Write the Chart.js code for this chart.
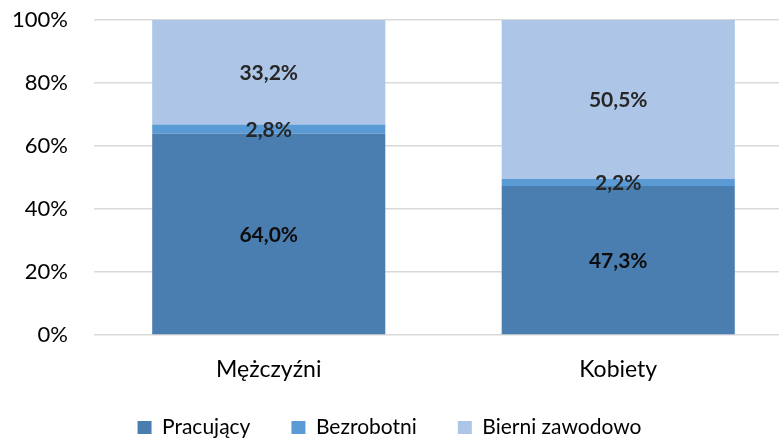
<!DOCTYPE html>
<html>
<head>
<meta charset="utf-8">
<script src="https://cdn.jsdelivr.net/npm/chart.js@4"></script>
<style>
  html, body { margin: 0; padding: 0; background: #fff; overflow: hidden; }
  #wrap { width: 779px; height: 439px; }
</style>
</head>
<body>
<div id="wrap"><canvas id="chart-aktywnosc"></canvas></div>
<script>
// dane (udział w %)
const kategorie = ['Mężczyźni', 'Kobiety']
const pracujacy = [64.0, 47.3]
const bezrobotni = [2.8, 2.2]
const bierni = [33.2, 50.5]
const serie = ['Pracujący', 'Bezrobotni', 'Bierni zawodowo']
const yTicks = [0, 20, 40, 60, 80, 100]

const kolory = ['#4a7eb0', '#5b9bd5', '#adc5e6']
const koloryEtykiet = ['#0d0d0d', '#262626', '#262626']
const FONT = 'Lato'

const punkty = arr => arr.map((v, i) => ({ x: i, y: v }))

// etykiety danych na środku segmentów
const etykiety = {
  id: 'etykiety',
  afterDatasetsDraw(chart) {
    const ctx = chart.ctx
    ctx.save()
    ctx.font = 'bold 21px ' + FONT
    ctx.textAlign = 'center'
    ctx.textBaseline = 'middle'
    chart.data.datasets.forEach((ds, d) => {
      const meta = chart.getDatasetMeta(d)
      ctx.fillStyle = koloryEtykiet[d]
      meta.data.forEach((el, i) => {
        const p = el.getProps(['x', 'y', 'base'], true)
        const txt = ds.data[i].y.toFixed(1).replace('.', ',') + '%'
        ctx.fillText(txt, p.x, (p.y + p.base) / 2 + 1)
      })
    })
    ctx.restore()
  }
}

// legenda: duże odstępy między pozycjami, ale blisko dolnej krawędzi
const legenda = {
  id: 'legenda',
  beforeInit(chart) {
    const fit = chart.legend.fit
    chart.legend.fit = function () {
      fit.call(this)
      this.height = 51
    }
  },
  afterLayout(chart) {
    chart.legend.top -= 12
  }
}

window.addEventListener('load', () => {
  new Chart(document.getElementById('chart-aktywnosc'), {
    type: 'bar',
    data: {
      datasets: [{
        label: serie[0],
        data: punkty(pracujacy),
        backgroundColor: kolory[0],
      }, {
        label: serie[1],
        data: punkty(bezrobotni),
        backgroundColor: kolory[1],
      }, {
        label: serie[2],
        data: punkty(bierni),
        backgroundColor: kolory[2],
      }]
    },
    options: {
      responsive: true,
      maintainAspectRatio: false,
      animation: false,
      layout: { padding: { top: 20, right: 0, bottom: 0, left: 0 } },
      datasets: {
        bar: { barPercentage: 1, categoryPercentage: 0.667 }
      },
      plugins: {
        tooltip: { enabled: false },
        legend: {
          position: 'bottom',
          labels: {
            boxWidth: 14,
            boxHeight: 13,
            padding: 41,
            color: '#000',
            font: { family: FONT, size: 21 }
          }
        }
      },
      scales: {
        x: {
          type: 'linear',
          stacked: true,
          offset: false,
          min: -0.5,
          max: 1.46,
          afterBuildTicks: s => { s.ticks = kategorie.map((k, i) => ({ value: i })) },
          afterFit: s => { s.height = 53 },
          grid: { display: false },
          border: { display: false },
          ticks: {
            padding: 13,
            maxRotation: 0,
            autoSkip: false,
            color: '#000',
            font: { family: FONT, size: 23 },
            callback: v => kategorie[v]
          }
        },
        y: {
          stacked: true,
          min: 0,
          max: 100,
          afterBuildTicks: s => { s.ticks = yTicks.map(v => ({ value: v })) },
          afterFit: s => {
            s.width = 94
            s.paddingTop = 0
            s.paddingBottom = 0
          },
          border: { display: false },
          grid: { color: '#d9d9d9', lineWidth: 1.5, drawTicks: false },
          ticks: {
            padding: 26,
            color: '#000',
            font: { family: FONT, size: 22 },
            callback: v => v + '%'
          }
        }
      }
    },
    plugins: [etykiety, legenda]
  })
})
</script>
</body>
</html>
